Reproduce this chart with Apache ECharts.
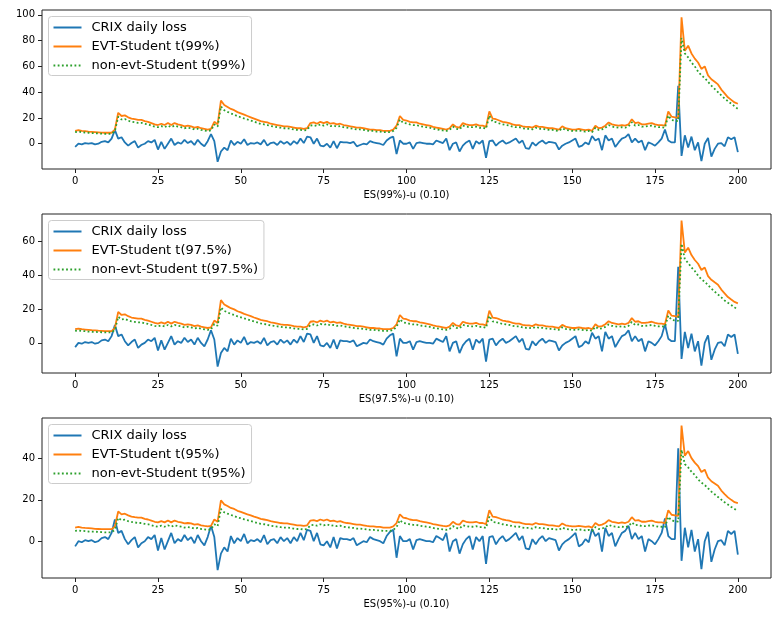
<!DOCTYPE html>
<html>
<head>
<meta charset="utf-8">
<script src="https://cdn.jsdelivr.net/npm/echarts@6/dist/echarts.min.js"></script>
<style>
  html, body { margin: 0; padding: 0; background: #fff; }
  #chart { width: 775px; height: 623px; }
</style>
</head>
<body>
<div id="chart"></div>
<script>
// Day index 0..200 of the backtest window
const days = Array.from({ length: 201 }, (_, i) => i);

// CRIX daily loss (percent)
const crixLoss = [
  -2.5, 0, -0.5, 0.5, 0, 0.5, -0.5, 0, 1.5, 2,
  1, 4, 10.5, 4, 5, 1, -1.5, 0.5, 2, -3,
  -1, 0, 2, 1, 3, -4.5, 1.5, -4, 0, 4,
  -1, 1, 0, 3, 0.5, 2, -1, 3, 0, -2,
  2, 7.5, 2, -14, -6, -3, -5, 2.5, -1, 1.5,
  0, 3.5, -1, 0.5, 0, 1, -0.5, 3, -1.5, 0.5,
  1, -1, 2, 0, 1.5, -1, 2, 0, 4, 0.5,
  5.5, 5, 0, 4, -1.5, -2, 0, -3, 2, -3.5,
  1.5, 1, 1, 0.5, 1.5, -2, -1, 0, -0.5, 2,
  1, 0.5, 0, -1, 2.5, 4.5, 5.5, -8, 2.5, 0,
  0, 1, -4, 0.5, 1, 0.5, 0, 0, -0.5, 2.5,
  1.5, 0.5, 4, -5, 0, 1, -6, -1.5, 1, 2.5,
  -4, 2, 0, 2.5, -11, 2, 2.5, -1.5, 1, 2.5,
  0, 1, 2.5, 4, 0.5, 2.5, -3.5, -4, 1, -1.5,
  1, 2.5, 0, 1.5, 1, 0.5, -4.5, -1.5, 0, 1,
  2.5, 4, -2.5, -1.5, 1, -0.5, 6, 2.5, 4, -5,
  6.5, 2.5, 4, -2.5, 1, 4, 5, 7.5, 1, 4,
  1, 2.5, -5, 1, 0, -1.5, 1, 4, 11, 2.5,
  1, 1, 45, -9.5, 6.5, -3, 5.5, -5, 1, -13.5,
  0, 4.5, -10, -4, 0, 0.5, -2, 5, 3.5, 5, -6.5
];

// ES at 99%
const evt99 = [
  10, 10.5, 10, 9.7, 9.4, 9.2, 9, 8.8, 8.6, 8.5,
  8.5, 8.5, 11, 24, 21.5, 22, 20.5, 19.5, 19, 18.5,
  18.5, 17.5, 17, 16, 15, 14.5, 15.5, 14.5, 16, 14.5,
  16, 15, 14.5, 13.5, 14, 13.5, 12.5, 13, 12, 11.5,
  11, 11.5, 17, 15, 33.5, 30, 28.5, 27, 26, 24.5,
  23.5, 22.5, 21.5, 20.5, 19.5, 18.5, 17.5, 17, 16.5, 15.5,
  15, 14.5, 14, 13.5, 13.5, 13, 12.5, 12, 12, 11.5,
  12, 16, 16.5, 15.5, 17, 16, 17, 15.5, 16, 15,
  15.5, 14.5, 14, 13.5, 13, 12.5, 12.5, 12, 11.5, 11,
  11, 10.5, 10.5, 10, 10, 10, 11, 14, 21.5, 18.5,
  18, 17, 16.5, 16.5, 15.5, 15, 14.5, 14, 13, 12.5,
  12, 11.5, 11, 12, 15, 13, 12.5, 16, 15, 14.5,
  14.5, 15, 14, 14, 13, 25, 19.5, 19, 18, 17,
  16.5, 16, 15, 14.5, 14.5, 13.5, 13, 13, 12.5, 14,
  13, 13, 12.5, 12, 12, 11.5, 11, 13.5, 12, 11.5,
  11, 11, 11.5, 11, 10.5, 11, 10, 14, 12, 12.5,
  14, 16.5, 15, 14.5, 14, 14.5, 14, 15, 19, 16,
  16.5, 15, 15, 15.5, 16, 15, 14.5, 14.5, 14, 25,
  21, 20.5, 20, 98, 72, 76, 70, 66, 63, 58,
  60, 53, 50, 48, 46, 42, 39, 36, 34, 32, 31
];
const nonEvt99 = [
  9.0, 9.4, 9.0, 8.7, 8.5, 8.3, 8.2, 8.0, 7.8, 7.7,
  7.7, 7.7, 9.9, 20.9, 18.8, 19.2, 17.9, 17.1, 16.7, 16.2,
  16.2, 15.4, 15.0, 14.1, 13.3, 12.8, 13.7, 12.8, 14.1, 12.8,
  14.1, 13.3, 12.8, 12.0, 12.4, 12.0, 11.1, 11.6, 10.7, 10.3,
  9.9, 10.3, 15.0, 13.3, 29.0, 26.0, 24.7, 23.5, 22.6, 21.3,
  20.5, 19.6, 18.8, 17.9, 17.1, 16.2, 15.4, 15.0, 14.5, 13.7,
  13.3, 12.8, 12.4, 12.0, 12.0, 11.6, 11.1, 10.7, 10.7, 10.3,
  10.7, 14.1, 14.5, 13.7, 15.0, 14.1, 15.0, 13.7, 14.1, 13.3,
  13.7, 12.8, 12.4, 12.0, 11.6, 11.1, 11.1, 10.7, 10.3, 9.9,
  9.9, 9.4, 9.4, 9.0, 9.0, 9.0, 9.9, 12.4, 18.8, 16.2,
  15.8, 15.0, 14.5, 14.5, 13.7, 13.3, 12.8, 12.4, 11.6, 11.1,
  10.7, 10.3, 9.9, 10.7, 13.3, 11.6, 11.1, 14.1, 13.3, 12.8,
  12.8, 13.3, 12.4, 12.4, 11.6, 21.8, 17.1, 16.7, 15.8, 15.0,
  14.5, 14.1, 13.3, 12.8, 12.8, 12.0, 11.6, 11.6, 11.1, 12.4,
  11.6, 11.6, 11.1, 10.7, 10.7, 10.3, 9.9, 12.0, 10.7, 10.3,
  9.9, 9.9, 10.3, 9.9, 9.4, 9.9, 9.0, 12.4, 10.7, 11.1,
  12.4, 14.5, 13.3, 12.8, 12.4, 12.8, 12.4, 13.3, 16.7, 14.1,
  14.5, 13.3, 13.3, 13.7, 14.1, 13.3, 12.8, 12.8, 12.4, 21.8,
  18.4, 17.9, 17.5, 82, 70, 67, 63, 60, 56, 53,
  51, 48, 45, 42.5, 40, 37.5, 35, 33, 31, 29, 27
];

// ES at 97.5%
const evt975 = [
  8.1, 8.5, 8.1, 7.9, 7.7, 7.5, 7.4, 7.2, 7.1, 7.0,
  7.0, 7.0, 8.8, 18.3, 16.5, 16.9, 15.8, 15.0, 14.7, 14.3,
  14.3, 13.6, 13.2, 12.5, 11.8, 11.4, 12.1, 11.4, 12.5, 11.4,
  12.5, 11.8, 11.4, 10.7, 11.0, 10.7, 9.9, 10.3, 9.6, 9.2,
  8.8, 9.2, 13.2, 11.8, 25.3, 22.7, 21.6, 20.5, 19.8, 18.7,
  18.0, 17.2, 16.5, 15.8, 15.0, 14.3, 13.6, 13.2, 12.8, 12.1,
  11.8, 11.4, 11.0, 10.7, 10.7, 10.3, 9.9, 9.6, 9.6, 9.2,
  9.6, 12.5, 12.8, 12.1, 13.2, 12.5, 13.2, 12.1, 12.5, 11.8,
  12.1, 11.4, 11.0, 10.7, 10.3, 9.9, 9.9, 9.6, 9.2, 8.8,
  8.8, 8.5, 8.5, 8.1, 8.1, 8.1, 8.8, 11.0, 16.5, 14.3,
  14.0, 13.2, 12.8, 12.8, 12.1, 11.8, 11.4, 11.0, 10.3, 9.9,
  9.6, 9.2, 8.8, 9.6, 11.8, 10.3, 9.9, 12.5, 11.8, 11.4,
  11.4, 11.8, 11.0, 11.0, 10.3, 19.1, 15.0, 14.7, 14.0, 13.2,
  12.8, 12.5, 11.8, 11.4, 11.4, 10.7, 10.3, 10.3, 9.9, 11.0,
  10.3, 10.3, 9.9, 9.6, 9.6, 9.2, 8.8, 10.7, 9.6, 9.2,
  8.8, 8.8, 9.2, 8.8, 8.5, 8.8, 8.1, 11.0, 9.6, 9.9,
  11.0, 12.8, 11.8, 11.4, 11.0, 11.4, 11.0, 11.8, 14.7, 12.5,
  12.8, 11.8, 11.8, 12.1, 12.5, 11.8, 11.4, 11.4, 11.0, 19.1,
  16.1, 15.8, 15.4, 72.3, 53.4, 56.3, 51.9, 49.0, 46.8, 43.1,
  44.6, 39.5, 37.3, 35.8, 34.4, 31.5, 29.3, 27.1, 25.6, 24.2, 23.4
];
const nonEvt975 = [
  7.1, 7.4, 7.1, 6.9, 6.7, 6.6, 6.5, 6.4, 6.3, 6.2,
  6.2, 6.2, 7.7, 15.4, 13.9, 14.2, 13.3, 12.7, 12.4, 12.1,
  12.1, 11.5, 11.2, 10.6, 10.1, 9.8, 10.3, 9.8, 10.6, 9.8,
  10.6, 10.1, 9.8, 9.2, 9.5, 9.2, 8.6, 8.9, 8.3, 8.0,
  7.7, 8.0, 11.2, 10.1, 21.0, 18.9, 18.0, 17.1, 16.5, 15.7,
  15.1, 14.5, 13.9, 13.3, 12.7, 12.1, 11.5, 11.2, 10.9, 10.3,
  10.1, 9.8, 9.5, 9.2, 9.2, 8.9, 8.6, 8.3, 8.3, 8.0,
  8.3, 10.6, 10.9, 10.3, 11.2, 10.6, 11.2, 10.3, 10.6, 10.1,
  10.3, 9.8, 9.5, 9.2, 8.9, 8.6, 8.6, 8.3, 8.0, 7.7,
  7.7, 7.4, 7.4, 7.1, 7.1, 7.1, 7.7, 9.5, 13.9, 12.1,
  11.8, 11.2, 10.9, 10.9, 10.3, 10.1, 9.8, 9.5, 8.9, 8.6,
  8.3, 8.0, 7.7, 8.3, 10.1, 8.9, 8.6, 10.6, 10.1, 9.8,
  9.8, 10.1, 9.5, 9.5, 8.9, 16.0, 12.7, 12.4, 11.8, 11.2,
  10.9, 10.6, 10.1, 9.8, 9.8, 9.2, 8.9, 8.9, 8.6, 9.5,
  8.9, 8.9, 8.6, 8.3, 8.3, 8.0, 7.7, 9.2, 8.3, 8.0,
  7.7, 7.7, 8.0, 7.7, 7.4, 7.7, 7.1, 9.5, 8.3, 8.6,
  9.5, 10.9, 10.1, 9.8, 9.5, 9.8, 9.5, 10.1, 12.4, 10.6,
  10.9, 10.1, 10.1, 10.3, 10.6, 10.1, 9.8, 9.8, 9.5, 16.0,
  13.6, 13.3, 13.0, 58.6, 49.4, 47.3, 44.6, 42.5, 39.7, 37.6,
  36.2, 34.2, 32.1, 30.3, 28.6, 26.9, 25.1, 23.7, 22.4, 21.0, 19.6
];

// ES at 95%
const evt95 = [
  6.6, 6.9, 6.6, 6.4, 6.3, 6.2, 6.0, 5.9, 5.8, 5.8,
  5.8, 5.8, 7.2, 14.4, 13.0, 13.3, 12.5, 11.9, 11.6, 11.4,
  11.4, 10.8, 10.5, 10.0, 9.4, 9.1, 9.7, 9.1, 10.0, 9.1,
  10.0, 9.4, 9.1, 8.6, 8.8, 8.6, 8.0, 8.3, 7.7, 7.4,
  7.2, 7.4, 10.5, 9.4, 19.8, 17.8, 17.0, 16.1, 15.6, 14.7,
  14.2, 13.6, 13.0, 12.5, 11.9, 11.4, 10.8, 10.5, 10.2, 9.7,
  9.4, 9.1, 8.8, 8.6, 8.6, 8.3, 8.0, 7.7, 7.7, 7.4,
  7.7, 10.0, 10.2, 9.7, 10.5, 10.0, 10.5, 9.7, 10.0, 9.4,
  9.7, 9.1, 8.8, 8.6, 8.3, 8.0, 8.0, 7.7, 7.4, 7.2,
  7.2, 6.9, 6.9, 6.6, 6.6, 6.6, 7.2, 8.8, 13.0, 11.4,
  11.1, 10.5, 10.2, 10.2, 9.7, 9.4, 9.1, 8.8, 8.3, 8.0,
  7.7, 7.4, 7.2, 7.7, 9.4, 8.3, 8.0, 10.0, 9.4, 9.1,
  9.1, 9.4, 8.8, 8.8, 8.3, 15.0, 11.9, 11.6, 11.1, 10.5,
  10.2, 10.0, 9.4, 9.1, 9.1, 8.6, 8.3, 8.3, 8.0, 8.8,
  8.3, 8.3, 8.0, 7.7, 7.7, 7.4, 7.2, 8.6, 7.7, 7.4,
  7.2, 7.2, 7.4, 7.2, 6.9, 7.2, 6.6, 8.8, 7.7, 8.0,
  8.8, 10.2, 9.4, 9.1, 8.8, 9.1, 8.8, 9.4, 11.6, 10.0,
  10.2, 9.4, 9.4, 9.7, 10.0, 9.4, 9.1, 9.1, 8.8, 15.0,
  12.8, 12.5, 12.2, 55.9, 41.3, 43.6, 40.2, 38.0, 36.3, 33.5,
  34.6, 30.7, 29.0, 27.9, 26.8, 24.5, 22.8, 21.2, 20.0, 18.9, 18.4
];
const nonEvt95 = [
  5.0, 5.2, 5.0, 4.9, 4.7, 4.6, 4.6, 4.5, 4.4, 4.3,
  4.3, 4.3, 5.5, 11.3, 10.2, 10.4, 9.7, 9.3, 9.1, 8.8,
  8.8, 8.4, 8.2, 7.7, 7.3, 7.0, 7.5, 7.0, 7.7, 7.0,
  7.7, 7.3, 7.0, 6.6, 6.8, 6.6, 6.1, 6.4, 5.9, 5.7,
  5.5, 5.7, 8.2, 7.3, 15.6, 14.0, 13.3, 12.7, 12.2, 11.5,
  11.1, 10.6, 10.2, 9.7, 9.3, 8.8, 8.4, 8.2, 7.9, 7.5,
  7.3, 7.0, 6.8, 6.6, 6.6, 6.4, 6.1, 5.9, 5.9, 5.7,
  5.9, 7.7, 7.9, 7.5, 8.2, 7.7, 8.2, 7.5, 7.7, 7.3,
  7.5, 7.0, 6.8, 6.6, 6.4, 6.1, 6.1, 5.9, 5.7, 5.5,
  5.5, 5.2, 5.2, 5.0, 5.0, 5.0, 5.5, 6.8, 10.2, 8.8,
  8.6, 8.2, 7.9, 7.9, 7.5, 7.3, 7.0, 6.8, 6.4, 6.1,
  5.9, 5.7, 5.5, 5.9, 7.3, 6.4, 6.1, 7.7, 7.3, 7.0,
  7.0, 7.3, 6.8, 6.8, 6.4, 11.8, 9.3, 9.1, 8.6, 8.2,
  7.9, 7.7, 7.3, 7.0, 7.0, 6.6, 6.4, 6.4, 6.1, 6.8,
  6.4, 6.4, 6.1, 5.9, 5.9, 5.7, 5.5, 6.6, 5.9, 5.7,
  5.5, 5.5, 5.7, 5.5, 5.2, 5.5, 5.0, 6.8, 5.9, 6.1,
  6.8, 7.9, 7.3, 7.0, 6.8, 7.0, 6.8, 7.3, 9.1, 7.7,
  7.9, 7.3, 7.3, 7.5, 7.7, 7.3, 7.0, 7.0, 6.8, 11.8,
  10.0, 9.7, 9.5, 44.2, 37.3, 35.7, 33.6, 32.0, 29.9, 28.3,
  27.2, 25.6, 24.0, 22.7, 21.4, 20.1, 18.8, 17.7, 16.6, 15.6, 14.5
];

// Axis ticks
const xTicks = [0, 25, 50, 75, 100, 125, 150, 175, 200];
const yTicks99 = [0, 20, 40, 60, 80, 100];
const yTicks975 = [0, 20, 40, 60];
const yTicks95 = [0, 20, 40];

const panels = [
  { title: 'ES(99%)-u (0.10)', evtName: 'EVT-Student t(99%)', nonName: 'non-evt-Student t(99%)',
    evt: evt99, non: nonEvt99, yTicks: yTicks99, yMin: -19.6, yMax: 103.7, top: 10, height: 159 },
  { title: 'ES(97.5%)-u (0.10)', evtName: 'EVT-Student t(97.5%)', nonName: 'non-evt-Student t(97.5%)',
    evt: evt975, non: nonEvt975, yTicks: yTicks975, yMin: -17.8, yMax: 76.2, top: 214, height: 159 },
  { title: 'ES(95%)-u (0.10)', evtName: 'EVT-Student t(95%)', nonName: 'non-evt-Student t(95%)',
    evt: evt95, non: nonEvt95, yTicks: yTicks95, yMin: -17.8, yMax: 59.6, top: 418, height: 160 }
];

const BLUE = '#1f77b4', ORANGE = '#ff7f0e', GREEN = '#2ca02c';
const FONT = 'DejaVu Sans';
const pair = vals => vals.map((v, i) => [days[i], v]);

const grid = [], xAxis = [], yAxis = [], series = [], legend = [];

panels.forEach((p, k) => {
  grid.push({
    left: 42, top: p.top, width: 729, height: p.height,
    show: true, borderColor: '#222', borderWidth: 1, backgroundColor: 'transparent'
  });
  xAxis.push({
    type: 'value', gridIndex: k, min: -10, max: 210,
    name: p.title, nameLocation: 'middle', nameGap: 21,
    nameTextStyle: { fontFamily: FONT, fontSize: 10, color: '#000' },
    axisLine: { show: false, onZero: false },
    axisTick: { show: true, length: 4, customValues: xTicks, lineStyle: { color: '#222' } },
    axisLabel: { customValues: xTicks, fontFamily: FONT, fontSize: 10, color: '#000', margin: 7 },
    splitLine: { show: false }
  });
  yAxis.push({
    type: 'value', gridIndex: k, min: p.yMin, max: p.yMax,
    axisLine: { show: false, onZero: false },
    axisTick: { show: true, length: 4, customValues: p.yTicks, lineStyle: { color: '#222' } },
    axisLabel: { customValues: p.yTicks, fontFamily: FONT, fontSize: 10, color: '#000', margin: 7 },
    splitLine: { show: false }
  });
  const common = { type: 'line', xAxisIndex: k, yAxisIndex: k, symbol: 'none', showSymbol: false,
                   animation: false, silent: true };
  series.push(Object.assign({}, common, {
    name: 'CRIX daily loss', data: pair(crixLoss),
    lineStyle: { color: BLUE, width: 1.8 }, itemStyle: { color: BLUE }
  }));
  series.push(Object.assign({}, common, {
    name: p.evtName, data: pair(p.evt),
    lineStyle: { color: ORANGE, width: 1.8 }, itemStyle: { color: ORANGE }
  }));
  series.push(Object.assign({}, common, {
    name: p.nonName, data: pair(p.non),
    lineStyle: { color: GREEN, width: 1.8, type: [1.8, 2.4] }, itemStyle: { color: GREEN }
  }));
  legend.push({
    data: ['CRIX daily loss', p.evtName, p.nonName],
    orient: 'vertical', left: 48.5, top: p.top + 6.5,
    itemWidth: 28, itemHeight: 14, itemGap: 5,
    padding: [4, 6, 3, 4],
    borderColor: '#cccccc', borderWidth: 1, borderRadius: 3,
    backgroundColor: 'rgba(255,255,255,0.8)',
    selectedMode: false,
    itemStyle: { opacity: 0 },
    textStyle: { fontFamily: FONT, fontSize: 13, color: '#000', lineHeight: 14, padding: [0, 0, 0, 5] }
  });
});

const chart = echarts.init(document.getElementById('chart'), null, { renderer: 'canvas' });
chart.setOption({
  animation: false,
  backgroundColor: '#fff',
  grid, xAxis, yAxis, series, legend
});
</script>
</body>
</html>
